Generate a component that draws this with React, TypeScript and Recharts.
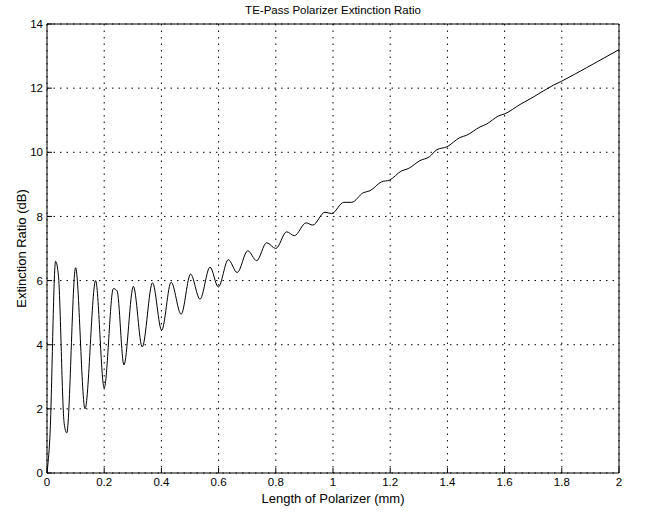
import { CartesianGrid, Line, LineChart, ReferenceArea, XAxis, YAxis } from "recharts";

const lengthMm = [
  0, 0.01, 0.03, 0.04, 0.06, 0.069, 0.1, 0.133, 0.17, 0.2, 0.232, 0.245, 0.269, 0.302, 0.333, 0.369,
  0.401, 0.434, 0.469, 0.502, 0.535, 0.57, 0.599, 0.634, 0.665, 0.702, 0.733, 0.768, 0.8, 0.838, 0.865,
  0.906, 0.929, 0.972, 0.995, 1.038, 1.065, 1.106, 1.129, 1.17, 1.197, 1.24, 1.263, 1.304, 1.337, 1.363,
  1.398, 1.444, 1.467, 1.514, 1.537, 1.578, 1.601, 1.654, 1.7, 1.77, 1.8, 1.887, 2.0,
];

const extinctionDb = [
  0, 1.1, 6.6, 6.15, 1.55, 1.25, 6.4, 2.0, 6.0, 2.65, 5.75, 5.68, 3.37, 5.82, 3.93, 5.93,
  4.45, 5.95, 4.95, 6.2, 5.42, 6.42, 5.8, 6.65, 6.25, 6.93, 6.62, 7.18, 7.0, 7.52, 7.4,
  7.8, 7.73, 8.13, 8.09, 8.44, 8.44, 8.74, 8.8, 9.08, 9.13, 9.42, 9.49, 9.74, 9.86, 10.08,
  10.17, 10.46, 10.53, 10.79, 10.88, 11.13, 11.2, 11.49, 11.72, 12.09, 12.22, 12.64, 13.2,
];

const xTicks = [0, 0.2, 0.4, 0.6, 0.8, 1, 1.2, 1.4, 1.6, 1.8, 2];
const yTicks = [0, 2, 4, 6, 8, 10, 12, 14];

const font = "'Liberation Sans', Arial, sans-serif";
const tickStyle = { fill: "#000", fontSize: 11.5, fontFamily: font };
const blank = () => "";

export default function App() {
  const data = lengthMm.map((x, i) => ({ x, y: extinctionDb[i] }));

  return (
    <div style={{ position: "absolute", left: 0, top: 0, width: 649, height: 512, background: "#fff", fontFamily: font }}>
      <div
        style={{
          position: "absolute",
          left: 47,
          width: 572,
          top: 4,
          textAlign: "center",
          fontSize: 11.5,
          color: "#000",
        }}
      >
        TE-Pass Polarizer Extinction Ratio
      </div>
      <LineChart width={649} height={512} data={data} margin={{ top: 24, right: 30, left: 0, bottom: 0 }}>
        <CartesianGrid stroke="#000" strokeDasharray="1.5 5" strokeWidth={1} />
        <XAxis
          dataKey="x"
          type="number"
          domain={[0, 2]}
          ticks={xTicks}
          height={39}
          axisLine={false}
          tickLine={{ stroke: "#000" }}
          tickSize={-5}
          tickMargin={10}
          tick={tickStyle}
          label={{ value: "Length of Polarizer (mm)", position: "insideBottom", offset: 9, fill: "#000", fontSize: 13, fontFamily: font }}
        />
        <XAxis
          xAxisId="top"
          orientation="top"
          dataKey="x"
          type="number"
          domain={[0, 2]}
          ticks={xTicks}
          height={0}
          axisLine={false}
          tickLine={{ stroke: "#000" }}
          tickSize={-5}
          tickFormatter={blank}
        />
        <YAxis
          type="number"
          domain={[0, 14]}
          ticks={yTicks}
          width={47}
          axisLine={false}
          tickLine={{ stroke: "#000" }}
          tickSize={-5}
          tickMargin={9}
          tick={tickStyle}
          label={{ value: "Extinction Ratio (dB)", angle: -90, position: "insideLeft", offset: 21, fill: "#000", fontSize: 13, fontFamily: font, style: { textAnchor: "middle" } }}
        />
        <YAxis
          yAxisId="right"
          orientation="right"
          type="number"
          domain={[0, 14]}
          ticks={yTicks}
          width={0}
          axisLine={false}
          tickLine={{ stroke: "#000" }}
          tickSize={-5}
          tickFormatter={blank}
        />
        <ReferenceArea x1={0} x2={2} y1={0} y2={14} stroke="#000" strokeWidth={1} fill="none" fillOpacity={0} />
        <Line type="monotone" dataKey="y" stroke="#000" strokeWidth={1} dot={false} isAnimationActive={false} />
      </LineChart>
    </div>
  );
}
